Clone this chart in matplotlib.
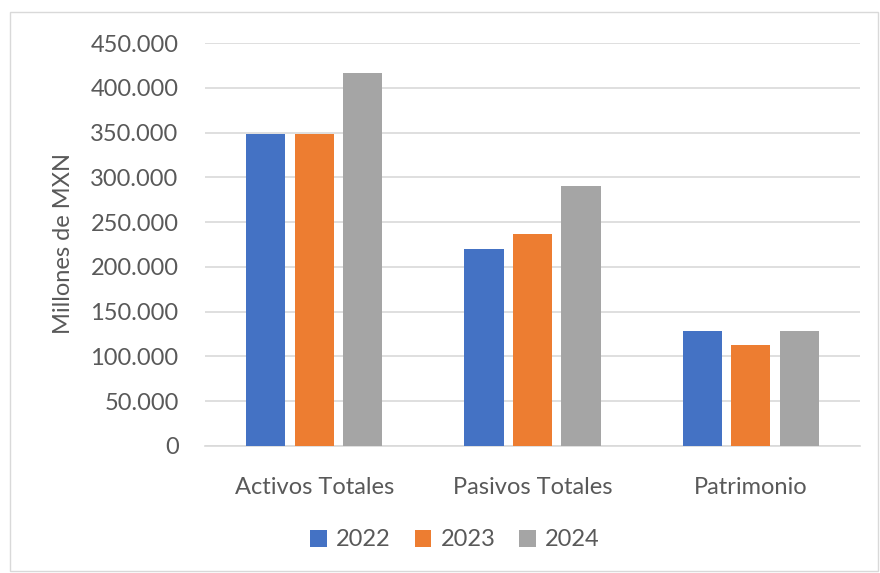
import matplotlib
matplotlib.use("Agg")
import matplotlib.pyplot as plt
import numpy as np
from matplotlib.patches import Rectangle
from matplotlib.ticker import FuncFormatter

categories = ["Activos Totales", "Pasivos Totales", "Patrimonio"]
years = ["2022", "2023", "2024"]
v2022 = [348000, 220000, 128500]
v2023 = [348000, 237000, 113000]
v2024 = [417000, 290000, 128500]
colors = ["#4472c4", "#ed7d31", "#a5a5a5"]

plt.rcParams["font.family"] = ["Lato", "DejaVu Sans"]
text_col = "#595959"
fs = 17

fig = plt.figure(figsize=(8.8, 5.73), dpi=100)
ax = fig.add_axes([205 / 880, 1 - 446 / 573, 655 / 880, 403 / 573])

x = np.arange(len(categories))
w = 0.179
step = 0.222
for i, (vals, yr) in enumerate(zip([v2022, v2023, v2024], years)):
    ax.bar(x + (i - 1) * step, vals, width=w, color=colors[i], label=yr, zorder=3)

ax.set_xlim(-0.5, 2.5)
ax.set_ylim(0, 450000)
ax.set_yticks(np.arange(0, 450001, 50000))
ax.yaxis.set_major_formatter(FuncFormatter(lambda v, p: "0" if v == 0 else f"{int(v):,}".replace(",", ".")))
ax.set_xticks(x)
ax.set_xticklabels(categories)
ax.tick_params(axis="both", length=0, colors=text_col, labelsize=fs)
ax.tick_params(axis="x", pad=22)
ax.tick_params(axis="y", pad=19)
ax.grid(axis="y", color="#d9d9d9", linewidth=1.2, zorder=0)
for s in ["top", "right", "left"]:
    ax.spines[s].set_visible(False)
ax.spines["bottom"].set_color("#d9d9d9")
ax.spines["bottom"].set_linewidth(1.2)

fig.text(63 / 880, 1 - 244 / 573, "Millones de MXN", rotation=90, ha="center", va="center",
         color=text_col, fontsize=fs)

leg = fig.legend(loc="center", bbox_to_anchor=(455 / 880, 1 - 540 / 573), ncol=3, frameon=False,
                 fontsize=fs, handlelength=0.7, handleheight=0.7, columnspacing=1.0, handletextpad=0.4)
for t in leg.get_texts():
    t.set_color(text_col)

fig.patches.append(Rectangle((10 / 880, 2 / 573), 868 / 880, 559 / 573, transform=fig.transFigure,
                             fill=False, edgecolor="#d9d9d9", linewidth=1))

fig.savefig("out.png", dpi=100)
